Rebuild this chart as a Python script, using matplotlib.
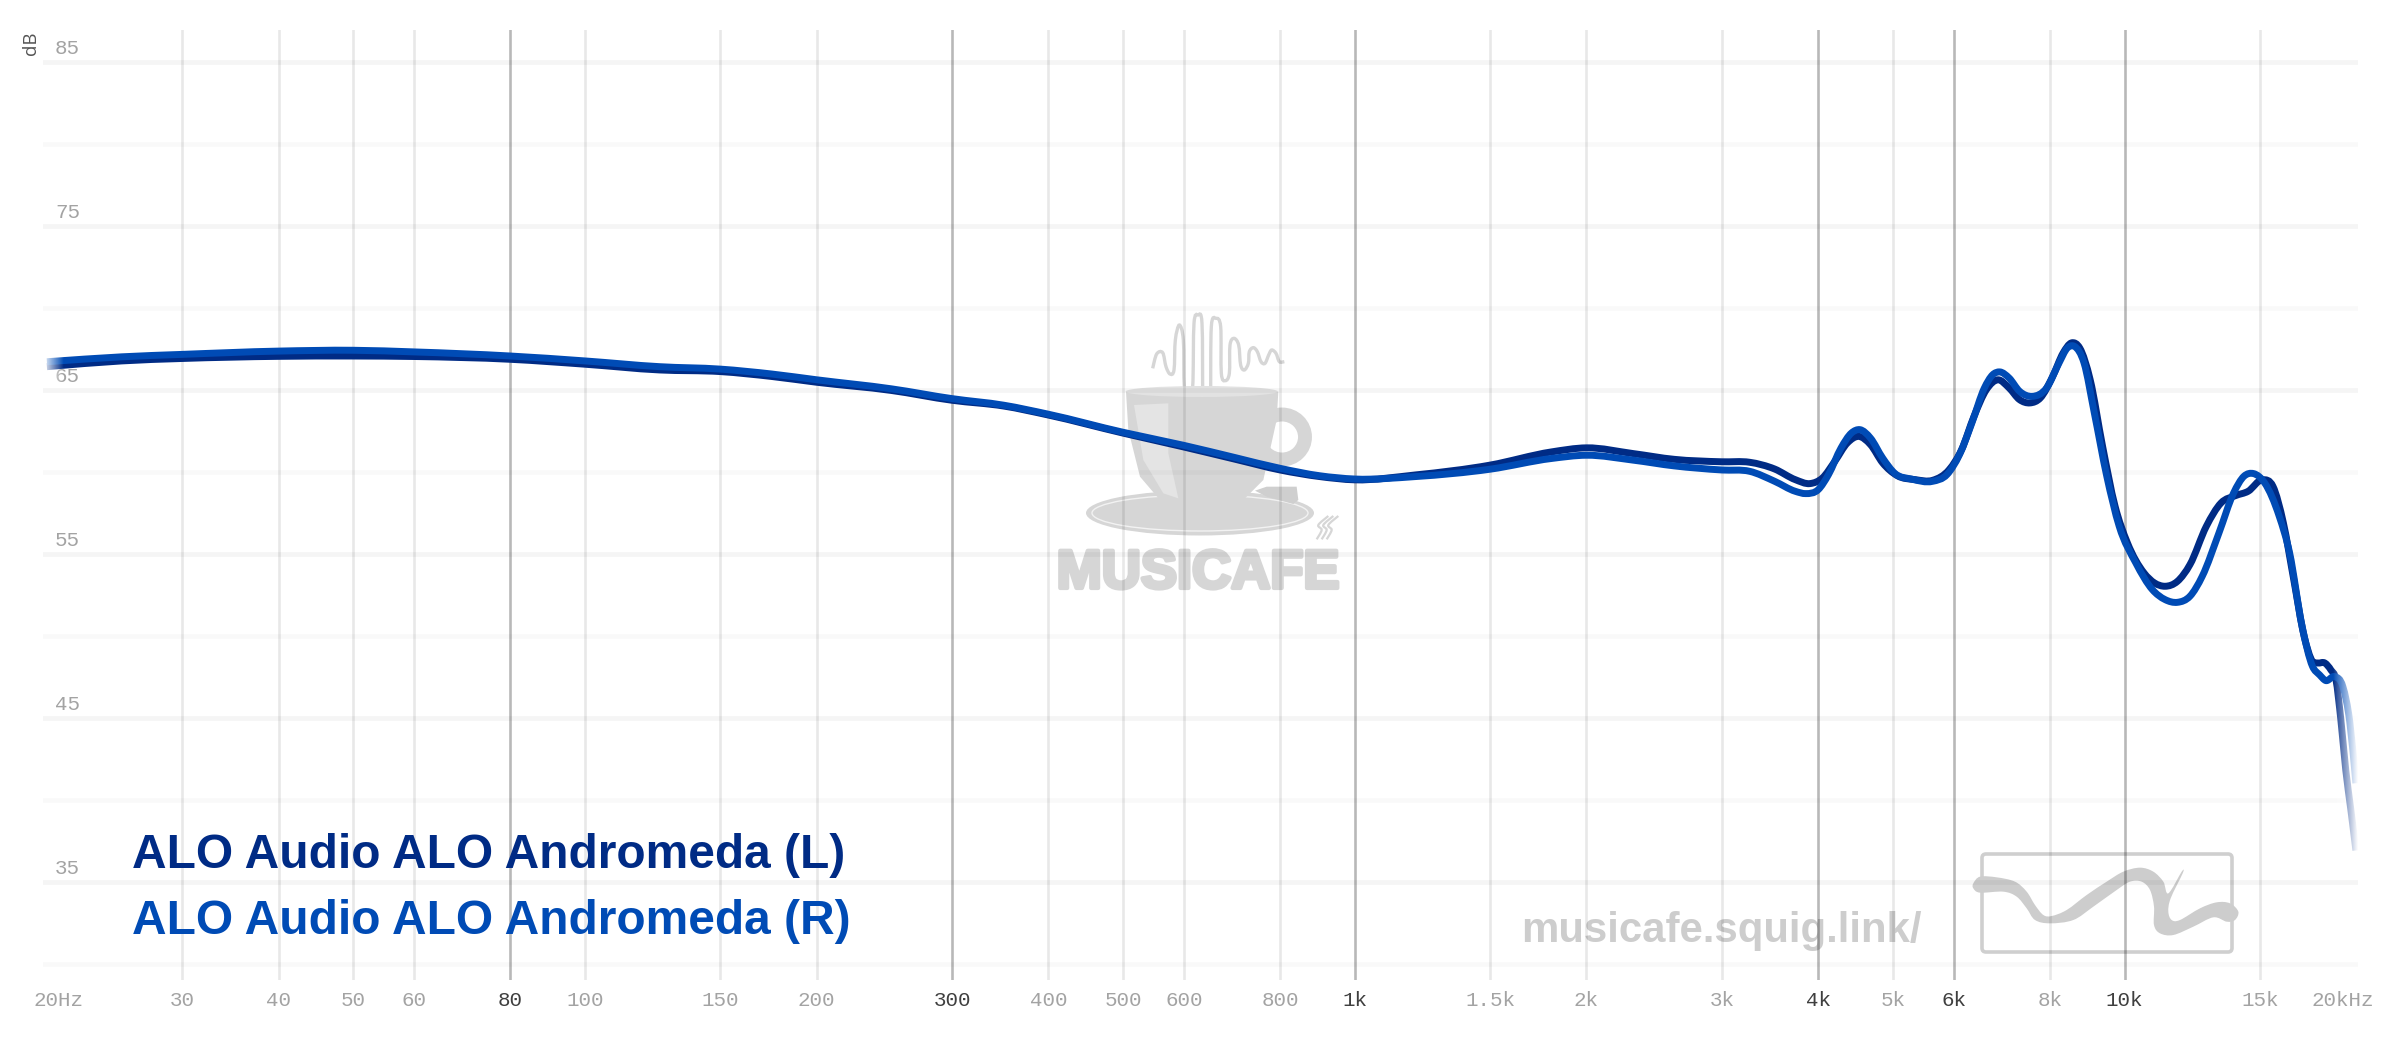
import numpy as np
import matplotlib
matplotlib.use('Agg')
import matplotlib.pyplot as plt
import matplotlib.patheffects as pe
from matplotlib.path import Path
from matplotlib.patches import PathPatch, Ellipse, FancyBboxPatch

freq_l = [20, 25, 30, 40, 50, 60, 80, 100, 125, 150, 175, 200, 250, 300, 350, 400, 500, 600, 700, 800,
          900, 1000, 1200, 1500, 1800, 2000, 2300, 2600, 3000, 3258, 3511, 3735, 3902, 4050, 4204, 4364,
          4514, 4676, 4850, 5064, 5351, 5632, 5918, 6142, 6374, 6615, 6847, 7080, 7304, 7535, 7772, 8067,
          8322, 8531, 8745, 9022, 9364, 9720, 10087, 10600, 10938, 11285, 11713, 12160, 12772, 13345,
          13944, 14470, 15112, 15589, 16081, 16588, 17112, 17542, 17825, 18204, 18540, 18820, 19098,
          19380, 19675, 19977]
db_l = [66.4, 66.75, 66.9, 67.03, 67.05, 67.02, 66.85, 66.55, 66.2, 66.1, 65.8, 65.45, 64.95, 64.35, 64.0,
        63.45, 62.35, 61.5, 60.75, 60.1, 59.7, 59.5, 59.8, 60.4, 61.2, 61.45, 61.1, 60.75, 60.6, 60.57,
        60.16, 59.51, 59.27, 59.61, 60.63, 61.75, 62.15, 61.65, 60.53, 59.76, 59.51, 59.47, 60.12, 61.34,
        63.37, 65.0, 65.6, 65.1, 64.39, 64.19, 64.49, 65.81, 67.24, 67.85, 67.54, 65.61, 61.54, 57.89,
        55.65, 53.82, 53.21, 53.01, 53.31, 54.33, 56.67, 58.09, 58.54, 58.8, 59.51, 59.1, 56.87, 53.41,
        49.96, 48.43, 48.33, 48.33, 47.9, 47.3, 44.86, 41.8, 39.4, 36.9]

freq_r = [20, 25, 30, 40, 50, 60, 80, 100, 125, 150, 175, 200, 250, 300, 350, 400, 500, 600, 700, 800,
          900, 1000, 1200, 1500, 1800, 2000, 2300, 2600, 3000, 3258, 3511, 3735, 3853, 4000, 4125, 4282,
          4419, 4530, 4676, 4850, 5034, 5285, 5632, 5879, 6104, 6334, 6575, 6741, 6884, 7080, 7304, 7582,
          7919, 8221, 8428, 8607, 8858, 9135, 9482, 9841, 10343, 10869, 11285, 11713, 12160, 12616, 13262,
          13857, 14294, 14708, 15206, 15882, 16384, 17006, 17542, 17925, 18250, 18750, 19210, 19620, 19977]
db_r = [66.7, 67.0, 67.15, 67.35, 67.4, 67.3, 67.05, 66.75, 66.4, 66.25, 65.95, 65.6, 65.05, 64.45, 64.05,
        63.5, 62.4, 61.6, 60.85, 60.2, 59.75, 59.55, 59.7, 60.15, 60.8, 61.0, 60.7, 60.35, 60.1, 60.02,
        59.41, 58.8, 58.66, 58.9, 59.82, 61.44, 62.36, 62.56, 62.05, 60.83, 59.88, 59.55, 59.41, 59.82,
        61.04, 62.97, 65.1, 65.91, 66.08, 65.71, 64.9, 64.59, 65.1, 66.63, 67.54, 67.64, 66.63, 63.58,
        59.72, 56.67, 54.43, 52.8, 52.2, 52.03, 52.4, 53.62, 56.26, 58.7, 59.72, 59.88, 59.31, 57.28,
        55.04, 50.57, 48.13, 47.6, 47.26, 47.5, 46.9, 44.7, 41.0]

tick_freqs = [20, 30, 40, 50, 60, 80, 100, 150, 200, 300, 400, 500, 600, 800, 1000, 1500, 2000, 3000, 4000,
              5000, 6000, 8000, 10000, 15000, 20000]
tick_labels = ['20Hz', '30', '40', '50', '60', '80', '100', '150', '200', '300', '400', '500', '600', '800',
               '1k', '1.5k', '2k', '3k', '4k', '5k', '6k', '8k', '10k', '15k', '20kHz']
dark_freqs = [80, 300, 1000, 4000, 6000, 10000]
db_ticks = [35, 45, 55, 65, 75, 85]
db_grid = [30, 35, 40, 45, 50, 55, 60, 65, 70, 75, 80, 85]

names = ['ALO Audio ALO Andromeda (L)', 'ALO Audio ALO Andromeda (R)']
col_l = '#002b85'
col_r = '#004bb5'
logo = '#d6d6d6'
squig_col = '#cdcdcd'


def smooth(pts, closed=False):
    # catmull-rom through the points, only used for the logos
    pts = np.array(pts, float)
    if closed:
        pts = np.vstack([pts, pts[:1]])
    verts = [pts[0]]
    codes = [Path.MOVETO]
    n = len(pts)
    for i in range(n - 1):
        if closed:
            p0 = pts[(i - 1) % (n - 1)]
            p3 = pts[(i + 2) % (n - 1)]
        else:
            p0 = pts[max(i - 1, 0)]
            p3 = pts[min(i + 2, n - 1)]
        p1 = pts[i]
        p2 = pts[i + 1]
        verts += [p1 + (p2 - p0) / 6, p2 - (p3 - p1) / 6, p2]
        codes += [Path.CURVE4] * 3
    return Path(verts, codes)


def curve_path(freq, db):
    # bezier through the read points, straight in log f so the axes scale keeps it smooth
    lf = np.log10(freq)
    db = np.array(db, float)
    m = np.gradient(db, lf)
    verts = [(freq[0], db[0])]
    codes = [Path.MOVETO]
    for i in range(len(lf) - 1):
        h = (lf[i + 1] - lf[i]) / 3
        verts.append((10 ** (lf[i] + h), db[i] + m[i] * h))
        verts.append((10 ** (lf[i + 1] - h), db[i + 1] - m[i + 1] * h))
        verts.append((freq[i + 1], db[i + 1]))
        codes += [Path.CURVE4] * 3
    return Path(verts, codes)


def z2(pts):
    # zoomed cup coordinates to figure pixels
    return [(1000 + x / 3, 280 + y / 3) for x, y in pts]


def z4(pts):
    return [(1960 + x / 3, 840 + y / 3) for x, y in pts]


fig = plt.figure(figsize=(24, 10.38), dpi=100, facecolor='white')

# logos sit under the plot
back = fig.add_axes([0, 0, 1, 1], zorder=0)
back.set_xlim(0, 2400)
back.set_ylim(1038, 0)
back.axis('off')

steam = [(458, 265), (470, 222), (488, 218), (498, 260), (510, 282), (522, 270), (526, 180), (538, 135),
         (550, 180), (553, 320), (565, 345), (578, 320), (582, 130), (594, 105), (606, 130), (608, 350)]
steam2 = [(632, 350), (634, 140), (648, 115), (662, 140), (664, 280), (676, 302), (688, 280), (690, 195),
          (702, 175), (716, 195), (722, 255), (733, 270), (745, 250), (748, 215), (760, 203), (772, 215),
          (783, 245), (795, 250), (806, 225), (815, 210), (828, 220), (838, 245), (853, 245)]
for s in (steam, steam2):
    back.add_patch(PathPatch(smooth(z2(s)), fc='none', ec=logo, lw=2.4))

back.add_patch(Ellipse((1282, 437), 46, 45, fc='none', ec=logo, lw=10))
cup = [(378, 335), (385, 450), (420, 590), (490, 672), (535, 690), (700, 690), (790, 600), (830, 420), (835, 335)]
cv = z2(cup)
back.fill([p[0] for p in cv], [p[1] for p in cv], color=logo, lw=0)
back.add_patch(Ellipse((1201.7, 391.5), 152, 11, fc='#e2e2e2', ec='none'))
shade = z2([(402, 375), (505, 370), (505, 520), (535, 655), (490, 640), (430, 540)])
back.fill([p[0] for p in shade], [p[1] for p in shade], color='#e4e4e4', lw=0)
back.add_patch(Ellipse((1200, 513), 228, 45, fc=logo, ec='none', zorder=0.5))
back.add_patch(Ellipse((1200, 513), 216, 36, fc='none', ec='#f2f2f2', lw=1, zorder=0.6))
arm = z2([(765, 632), (800, 620), (890, 620), (895, 660), (880, 672), (800, 650)])
back.fill([p[0] for p in arm], [p[1] for p in arm], color='#cfcfcf', lw=0, zorder=3)
back.text(1198, 588, 'MUSICAFE', family='Liberation Sans', weight='bold', fontsize=39, color=logo,
          ha='center', va='baseline', path_effects=[pe.withStroke(linewidth=3, foreground=logo)])
for dx in (0, 5, 10):
    back.add_patch(PathPatch(smooth(z2([(950 + dx * 3, 778), (965 + dx * 3, 750), (955 + dx * 3, 735), (985 + dx * 3, 708)])),
                             fc='none', ec=logo, lw=1.6))

back.text(1521, 942, 'musicafe.squig.link/', family='Liberation Sans', weight='bold', fontsize=30.2,
          color='#cdcdcd', ha='left', va='baseline')
back.add_patch(FancyBboxPatch((1982, 854), 250, 98, boxstyle='round,pad=0,rounding_size=4',
                              fc='none', ec='#cfcfcf', lw=2.6))
squig = [(40, 130), (60, 110), (110, 112), (165, 125), (200, 155), (225, 195), (250, 225), (275, 228), (320, 210),
         (380, 165), (440, 125), (490, 95), (540, 83), (580, 95), (610, 125), (625, 160), (665, 95), (668, 100),
         (632, 175), (625, 215), (635, 240), (660, 240), (720, 205), (770, 187), (810, 190), (835, 215), (825, 240),
         (800, 245), (760, 232), (700, 260), (640, 285), (600, 280), (582, 255), (582, 200), (570, 150), (545, 125),
         (510, 125), (470, 150), (400, 200), (340, 240), (270, 250), (225, 240), (200, 205), (170, 170), (130, 155),
         (60, 158), (40, 145)]
back.add_patch(PathPatch(smooth(z4(squig), closed=True), fc=squig_col, ec='none'))

# main plot, axes box is 43..2358 x 30..980 px
ax = fig.add_axes([43 / 2400, 58 / 1038, 2315 / 2400, 950 / 1038], zorder=1)
ax.patch.set_alpha(0)
ax.set_xscale('log')
ax.set_xlim(19.77, 20102)
ax.set_ylim(29.0, 86.93)
for s in ax.spines.values():
    s.set_visible(False)
ax.set_xticks([])
ax.set_yticks([])
ax.minorticks_off()

for d in db_grid:
    ax.axhline(d, color='k', alpha=0.04 if d in db_ticks else 0.022, lw=3.4, zorder=1)
for f in tick_freqs[1:-1]:
    if f in dark_freqs:
        ax.axvline(f, color='k', alpha=0.28, lw=1.9, zorder=1)
    else:
        ax.axvline(f, color='k', alpha=0.09, lw=1.9, zorder=1)

ax.add_patch(PathPatch(curve_path(freq_l, db_l), fc='none', ec=col_l, lw=5.0, capstyle='butt', joinstyle='round', zorder=3))
ax.add_patch(PathPatch(curve_path(freq_r, db_r), fc='none', ec=col_r, lw=5.0, capstyle='butt', joinstyle='round', zorder=4))

for f, lab in zip(tick_freqs, tick_labels):
    dx = 0
    if lab == '20Hz':
        dx = 12
    if lab == '20kHz':
        dx = -14
    ax.annotate(lab, (f, 0), xycoords=('data', 'axes fraction'), xytext=(dx, -20), textcoords='offset pixels',
                family='Liberation Mono', fontsize=15, ha='center', va='center',
                color='#3f3f3f' if f in dark_freqs else '#a3a3a3', annotation_clip=False)
for d in db_ticks:
    ax.annotate(str(d), (0, d), xycoords=('axes fraction', 'data'), xytext=(37, 13), textcoords='offset pixels',
                family='Liberation Mono', fontsize=15, ha='right', va='center', color='#a3a3a3',
                annotation_clip=False)

# fading of the curve ends and legend names go on top
front = fig.add_axes([0, 0, 1, 1], zorder=2)
front.axis('off')
fade = np.ones((1, 64, 4))
fade[0, :, 3] = np.linspace(0.95, 0, 64)
front.imshow(fade, extent=(43, 64, 385, 335), aspect='auto', interpolation='bilinear', zorder=1)
fade2 = np.ones((1, 64, 4))
fade2[0, :, 3] = np.linspace(0, 1, 64) ** 0.9
front.imshow(fade2, extent=(2333, 2358, 870, 660), aspect='auto', interpolation='bilinear', zorder=1)
front.set_xlim(0, 2400)
front.set_ylim(1038, 0)

front.text(132, 868, names[0], family='Liberation Sans', weight='bold', fontsize=34.5, color=col_l, ha='left',
           va='baseline', zorder=5)
front.text(132, 934, names[1], family='Liberation Sans', weight='bold', fontsize=34.5, color=col_r, ha='left',
           va='baseline', zorder=5)
front.text(31, 43, 'dB', family='Open Sans', fontsize=13.5, color='#555555', rotation=90, ha='center', va='center')

fig.savefig('out.png', dpi=100, facecolor='white')
